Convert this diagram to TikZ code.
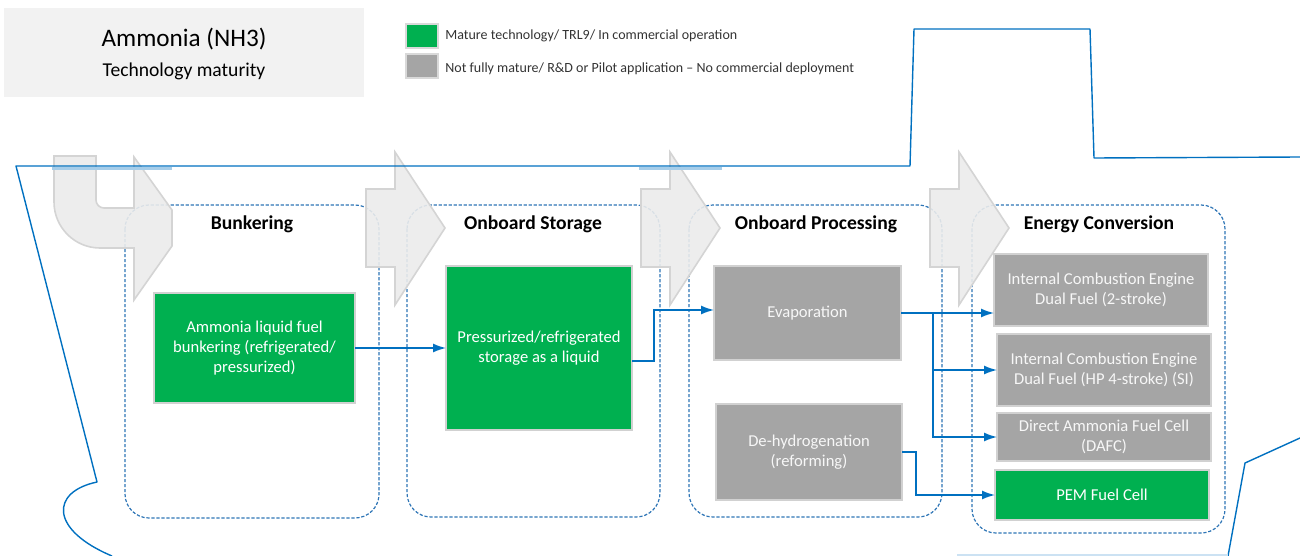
\documentclass[tikz,border=0pt]{standalone}
\usepackage{fontspec}
\setmainfont{Carlito}
\usetikzlibrary{arrows.meta}

\definecolor{techgreen}{HTML}{00B050}
\definecolor{techgray}{HTML}{A5A5A5}
\definecolor{shipblue}{HTML}{0070C0}
\definecolor{zoneblue}{HTML}{2E75B6}
\definecolor{chevgray}{HTML}{EBEBEB}
\definecolor{chevline}{HTML}{D4D4D4}
\definecolor{titlegray}{HTML}{F2F2F2}

\begin{document}
\begin{tikzpicture}[x=0.5pt, y=-0.5pt,
	tech/.style={draw=black!18, line width=0.6pt, inner sep=0pt, outer sep=0pt, align=center, text=white, font=\fontsize{8.3}{10}\selectfont},
	mature/.style={tech, fill=techgreen},
	pilot/.style={tech, fill=techgray, text=black!3},
	zone/.style={zoneblue, line width=0.6pt, dash pattern=on 1.6pt off 0.9pt, rounded corners=12pt},
	chevron/.style={fill=chevgray, draw=chevline, line width=0.8pt, fill opacity=0.9},
	flow/.style={shipblue, line width=0.75pt, -{Latex[length=6.5pt, width=4.5pt]}},
	phase/.style={anchor=base, inner sep=0pt, font=\bfseries\fontsize{9.8}{12}\selectfont},
	legtext/.style={anchor=base west, inner sep=0pt, text=black!80, font=\fontsize{7}{8.5}\selectfont},
	legbox/.style={draw=black!15, line width=0.6pt, minimum width=16pt, minimum height=12pt, inner sep=0pt}]
	\useasboundingbox (0,0) rectangle (1300,556);

	% title and legend
	\node[fill=titlegray, minimum width=180pt, minimum height=44.5pt, inner sep=0pt] (ttlbox) at (184,52.5) {};
	\node[anchor=base, inner sep=0pt, font=\fontsize{12.6}{15}\selectfont] (ttl) at (184,47) {Ammonia (NH3)};
	\node[anchor=base, inner sep=0pt, font=\fontsize{9.8}{12}\selectfont] (subttl) at (184,76) {Technology maturity};
	\node[legbox, fill=techgreen] (lgmat) at (422,36) {};
	\node[legtext] (lgmattext) at (445,40) {Mature technology/ TRL9/ In commercial operation};
	\node[legbox, fill=techgray] (lgpil) at (422,66) {};
	\node[legtext] (lgpiltext) at (445,73) {Not fully mature/ R\&D or Pilot application – No commercial deployment};

	% dotted phase frames
	\draw[zone] (125,205) rectangle (379,518);
	\draw[zone] (407,205) rectangle (660,517);
	\draw[zone] (689,205) rectangle (942,517);
	\draw[zone] (972,205) rectangle (1225,533);

	% big grey arrows between the phases
	\draw[chevron] (54,156) -- (96,156) -- (96,200) .. controls (96,204.4) and (99.6,208) .. (104,208)
		-- (134,208) -- (134,157) -- (172,210) -- (172,246) -- (134,300) -- (134,248) -- (100,248)
		.. controls (74.6,248) and (54,227.4) .. (54,202) -- cycle;
	\foreach \x in {366,641,930}
		\draw[chevron] (\x,189) -- ({\x+29},189) -- ({\x+29},152) -- ({\x+79},228) -- ({\x+29},305)
			-- ({\x+29},267) -- (\x,267) -- cycle;

	% ship hull
	\draw[shipblue, line width=0.7pt, line join=round] (1300,438) -- (1245,463) -- (1228,556);
	\draw[shipblue, line width=0.7pt, line join=round] (1300,157) -- (1094,158) -- (1090,29) -- (914,29)
		-- (910,166) -- (16,166) -- (97,482) .. controls (50,492) and (50,530) .. (112,556);
	\draw[shipblue!35, line width=1.5pt] (52,168) -- (172,168);
	\draw[shipblue!35, line width=1.5pt] (639,168) -- (722,168);
	\draw[shipblue!20, line width=0.6pt] (957,555) -- (1228,555);

	% phase titles
	\node[phase] (hbunk) at (252,229) {Bunkering};
	\node[phase] (hstor) at (533,229) {Onboard Storage};
	\node[phase] (hproc) at (816,229) {Onboard Processing};
	\node[phase] (hconv) at (1099,229) {Energy Conversion};

	% technologies
	\node[mature, minimum width=100.5pt, minimum height=55pt] (bunk) at (254.5,348) {Ammonia liquid fuel\\bunkering (refrigerated/\\pressurized)};
	\node[mature, minimum width=93pt, minimum height=82pt] (stor) at (539,348) {Pressurized/refrigerated\\storage as a liquid};
	\node[pilot, minimum width=93.5pt, minimum height=47pt] (evap) at (807.5,313) {Evaporation};
	\node[pilot, minimum width=93pt, minimum height=48pt] (dehy) at (809,452) {De-hydrogenation\\(reforming)};
	\node[pilot, minimum width=107pt, minimum height=36pt] (ice2) at (1101,290) {Internal Combustion Engine\\Dual Fuel (2-stroke)};
	\node[pilot, minimum width=107pt, minimum height=36pt] (ice4) at (1104,370) {Internal Combustion Engine\\Dual Fuel (HP 4-stroke) (SI)};
	\node[pilot, minimum width=107pt, minimum height=24pt] (dafc) at (1104,437) {Direct Ammonia Fuel Cell\\(DAFC)};
	\node[mature, minimum width=107pt, minimum height=25pt] (pem) at (1102,495) {PEM Fuel Cell};

	% flows
	\draw[flow] (bunk.east) -- (stor.west);
	\draw[flow] ([yshift=-6.5pt]stor.east) -- ++(22,0) |- ([yshift=1.5pt]evap.west);
	\draw[flow] (evap.east) -- (evap.east -| ice2.west);
	\path (evap.east) ++(32,0) coordinate (split);
	\draw[flow] (split) |- (ice4.west);
	\draw[flow] (split) |- (dafc.west);
	\draw[flow] (dehy.east) -- ++(14,0) |- (pem.west);
\end{tikzpicture}
\end{document}
